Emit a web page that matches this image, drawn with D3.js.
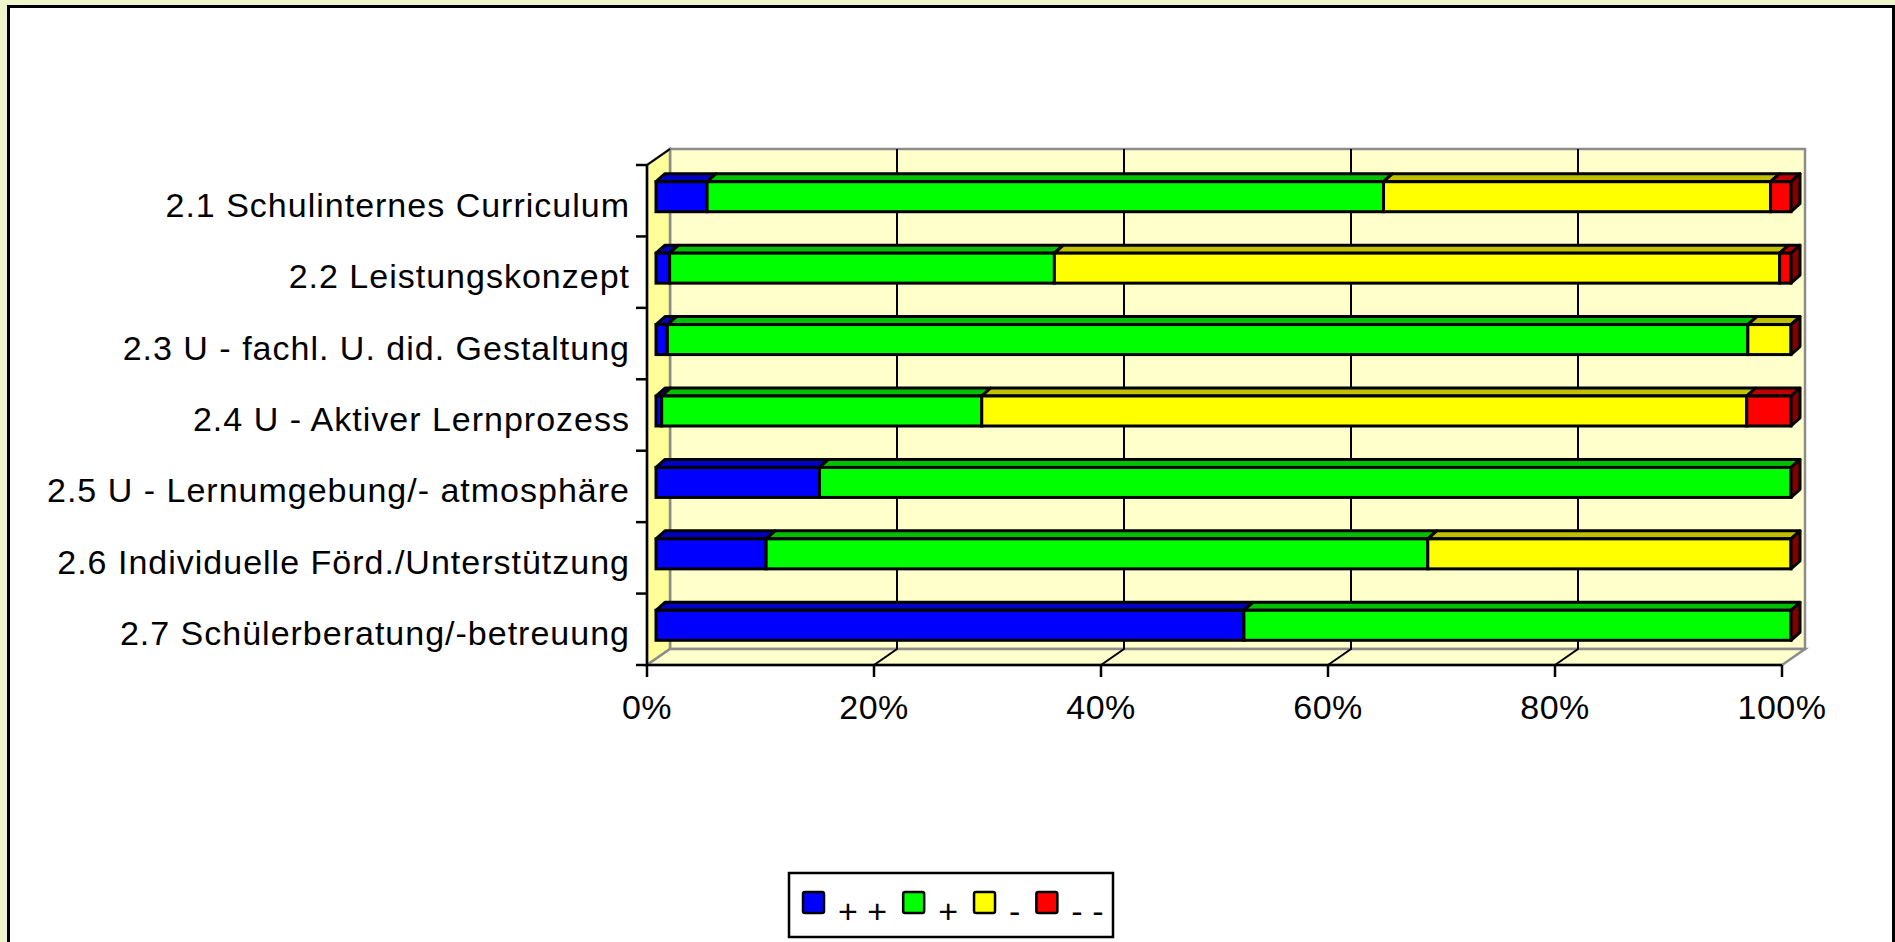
<!DOCTYPE html>
<meta charset="utf-8">
<html>
<head>
  <script src="https://d3js.org/d3.v7.min.js"></script>
  <style>
    body { margin: 0; background: #eef5cc; }
    svg { display: block; }
    text { font-family: "Liberation Sans", Arial, sans-serif; fill: #000; }
  </style>
</head>
<body>
  <svg></svg>
  <script type="text/javascript">
    // data (percent of answers)
    var categories = [
      '2.1 Schulinternes Curriculum',
      '2.2 Leistungskonzept',
      '2.3 U - fachl. U. did. Gestaltung',
      '2.4 U - Aktiver Lernprozess',
      '2.5 U - Lernumgebung/- atmosphäre',
      '2.6 Individuelle Förd./Unterstützung',
      '2.7 Schülerberatung/-betreuung'
    ]
    var seriesNames = ['+ +', '+', '-', '- -']
    var plusPlus   = [4.5, 1.2, 1.0, 0.5, 14.4, 9.7, 51.8]
    var plus       = [59.6, 33.9, 95.2, 28.2, 85.6, 58.3, 48.2]
    var minus      = [34.1, 63.9, 3.8, 67.4, 0, 32.0, 0]
    var minusMinus = [1.8, 1.0, 0, 3.9, 0, 0, 0]
    var xTicks = [0, 20, 40, 60, 80, 100]

    var colors = {
      front: ['#0000ff', '#00ff00', '#ffff00', '#ff0000'],
      top:   ['#0000c0', '#00c000', '#c0c000', '#c00000'],
      side:  ['#000080', '#008000', '#808000', '#800000']
    }

    var width = 1895
    var height = 942
    const svg = d3.select('svg')
      .attr('width', width)
      .attr('height', height)

    // chart frame
    svg.append('rect')
      .attr('x', 8.5).attr('y', 6.5)
      .attr('width', 1885).attr('height', 960)
      .attr('fill', '#fff')
      .attr('stroke', '#000')
      .attr('stroke-width', 3)

    // scales: front plane of the 3D box, depth vector goes back to the wall
    const x = d3.scaleLinear().domain([0, 100]).range([647, 1782])
    const y = d3.scaleBand().domain(categories).range([165, 665])
    const depth = { dx: 23, dy: -16 }
    const top0 = y.range()[0], bottom0 = y.range()[1]

    const frame = svg.append('g')
    const pts = p => p.map(d => d.join(',')).join(' ')

    // back wall
    frame.append('rect')
      .attr('x', x(0) + depth.dx).attr('y', top0 + depth.dy)
      .attr('width', x(100) - x(0)).attr('height', bottom0 - top0)
      .attr('fill', '#ffffcc')
      .attr('stroke', '#8c8c8c')
      .attr('stroke-width', 2.5)
    // left side wall
    frame.append('polygon')
      .attr('points', pts([[x(0), top0], [x(0) + depth.dx, top0 + depth.dy],
        [x(0) + depth.dx, bottom0 + depth.dy], [x(0), bottom0]]))
      .attr('fill', '#ffff99')
      .attr('stroke', '#8c8c8c')
      .attr('stroke-width', 2.5)
    // floor
    frame.append('polygon')
      .attr('points', pts([[x(0), bottom0], [x(0) + depth.dx, bottom0 + depth.dy],
        [x(100) + depth.dx, bottom0 + depth.dy], [x(100), bottom0]]))
      .attr('fill', '#ffffcc')
      .attr('stroke', '#8c8c8c')
      .attr('stroke-width', 2.5)

    // gridlines on wall and floor
    frame.selectAll('.grid')
      .data(xTicks.filter(t => t > 0 && t < 100))
      .enter().append('polyline')
      .attr('points', t => pts([[x(t) + depth.dx, top0 + depth.dy],
        [x(t) + depth.dx, bottom0 + depth.dy], [x(t), bottom0]]))
      .attr('fill', 'none')
      .attr('stroke', '#000')
      .attr('stroke-width', 2)

    // top-left edge of the side wall
    frame.append('line')
      .attr('x1', x(0)).attr('y1', top0)
      .attr('x2', x(0) + depth.dx).attr('y2', top0 + depth.dy)
      .attr('stroke', '#000').attr('stroke-width', 2)

    // stacked bars
    var table = categories.map((c, i) => ({
      cat: c, s0: plusPlus[i], s1: plus[i], s2: minus[i], s3: minusMinus[i]
    }))
    const stacked = d3.stack().keys(['s0', 's1', 's2', 's3'])(table)

    const bx = 9, bz = 8      // depth of a bar
    const faceShiftX = 9, faceUp = 4, faceH = 30
    const bars = svg.append('g')

    table.forEach(function(row, i) {
      var cy = y(row.cat) + y.bandwidth() / 2 - faceUp
      var t = cy - faceH / 2, b = cy + faceH / 2
      var g = bars.append('g')
      stacked.forEach(function(layer, k) {
        var x0 = x(layer[i][0]) + faceShiftX, x1 = x(layer[i][1]) + faceShiftX
        if (x1 - x0 < 0.01) return
        g.append('polygon')
          .attr('points', pts([[x0, t], [x0 + bx, t - bz], [x1 + bx, t - bz], [x1, t]]))
          .attr('fill', colors.top[k])
          .attr('stroke', '#000').attr('stroke-width', 3)
          .attr('stroke-linejoin', 'round')
        g.append('rect')
          .attr('x', x0).attr('y', t)
          .attr('width', x1 - x0).attr('height', faceH)
          .attr('fill', colors.front[k])
          .attr('stroke', '#000').attr('stroke-width', 3)
      })
      // end cap belongs to the last series, even when it is zero
      var xe = x(100) + faceShiftX
      g.append('polygon')
        .attr('points', pts([[xe, t], [xe + bx, t - bz], [xe + bx, b - bz], [xe, b]]))
        .attr('fill', colors.side[3])
        .attr('stroke', '#000').attr('stroke-width', 3)
        .attr('stroke-linejoin', 'round')
    })

    // axes
    const axes = svg.append('g')
    axes.append('line')
      .attr('x1', x(0)).attr('y1', top0).attr('x2', x(0)).attr('y2', bottom0)
      .attr('stroke', '#000').attr('stroke-width', 2.5)
    axes.append('line')
      .attr('x1', x(0)).attr('y1', bottom0).attr('x2', x(100)).attr('y2', bottom0)
      .attr('stroke', '#000').attr('stroke-width', 2.5)

    // category ticks at band boundaries
    var bounds = categories.map(c => y(c)).concat([bottom0])
    axes.selectAll('.ytick')
      .data(bounds)
      .enter().append('line')
      .attr('x1', x(0) - 11).attr('x2', x(0))
      .attr('y1', d => d).attr('y2', d => d)
      .attr('stroke', '#000').attr('stroke-width', 2.5)

    axes.selectAll('.ylabel')
      .data(categories)
      .enter().append('text')
      .attr('x', 630)
      .attr('y', d => y(d) + y.bandwidth() / 2 + 16)
      .attr('text-anchor', 'end')
      .attr('font-size', 34)
      .attr('letter-spacing', 1)
      .text(d => d)

    axes.selectAll('.xtick')
      .data(xTicks)
      .enter().append('line')
      .attr('x1', d => x(d)).attr('x2', d => x(d))
      .attr('y1', bottom0).attr('y2', bottom0 + 12)
      .attr('stroke', '#000').attr('stroke-width', 2.5)

    axes.selectAll('.xlabel')
      .data(xTicks)
      .enter().append('text')
      .attr('x', d => x(d))
      .attr('y', 719)
      .attr('text-anchor', 'middle')
      .attr('font-size', 34)
      .attr('letter-spacing', 0.5)
      .text(d => d + '%')

    // legend
    const legend = svg.append('g')
    legend.append('rect')
      .attr('x', 789).attr('y', 873)
      .attr('width', 324).attr('height', 64)
      .attr('fill', '#fff')
      .attr('stroke', '#000').attr('stroke-width', 2.5)
    var lx = 803
    seriesNames.forEach(function(name, k) {
      legend.append('rect')
        .attr('x', lx).attr('y', 892)
        .attr('width', 21).attr('height', 21)
        .attr('rx', 2)
        .attr('fill', colors.front[k])
        .attr('stroke', '#000').attr('stroke-width', 2.5)
      lx += 21 + 14
      var txt = legend.append('text')
        .attr('x', lx).attr('y', 923)
        .attr('font-size', 34)
        .text(name)
      lx += txt.node().getComputedTextLength() + 16
    })
  </script>
</body>
</html>
